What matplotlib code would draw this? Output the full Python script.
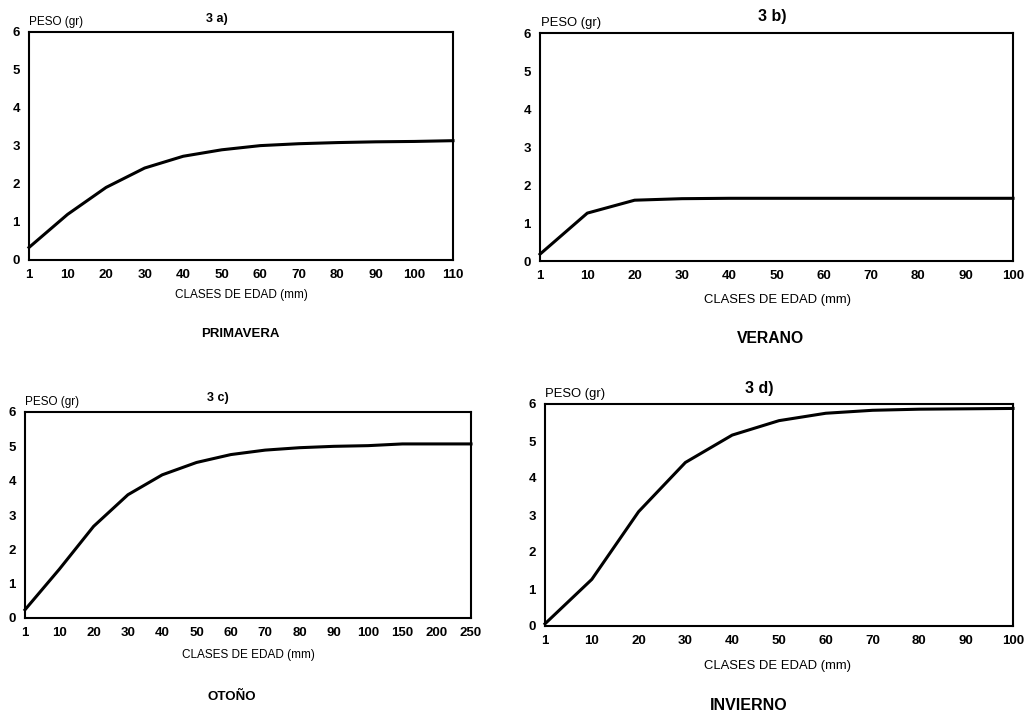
import matplotlib
matplotlib.use("Agg")
import matplotlib.pyplot as plt

plt.rcParams['font.family'] = ['Liberation Sans', 'DejaVu Sans']

# ---- data ----
cats_a = ["1", "10", "20", "30", "40", "50", "60", "70", "80", "90", "100", "110"]
peso_a = [0.33, 1.2, 1.91, 2.42, 2.73, 2.9, 3.01, 3.06, 3.09, 3.11, 3.12, 3.14]

cats_b = ["1", "10", "20", "30", "40", "50", "60", "70", "80", "90", "100"]
peso_b = [0.18, 1.26, 1.6, 1.64, 1.65, 1.65, 1.65, 1.65, 1.65, 1.65, 1.65]

cats_c = ["1", "10", "20", "30", "40", "50", "60", "70", "80", "90", "100", "150", "200", "250"]
peso_c = [0.24, 1.42, 2.67, 3.59, 4.17, 4.53, 4.76, 4.89, 4.96, 5.0, 5.02, 5.07, 5.07, 5.07]

cats_d = ["1", "10", "20", "30", "40", "50", "60", "70", "80", "90", "100"]
peso_d = [0.06, 1.26, 3.09, 4.42, 5.16, 5.55, 5.75, 5.83, 5.86, 5.87, 5.88]

titles = ["3 a)", "3 b)", "3 c)", "3 d)"]
seasons = ["PRIMAVERA", "VERANO", "OTOÑO", "INVIERNO"]
ylabel = "PESO (gr)"
xlabel = "CLASES DE EDAD (mm)"
yticks = [0, 1, 2, 3, 4, 5, 6]

W, H = 1028, 713
fig = plt.figure(figsize=(W / 100, H / 100), dpi=100)


def rect(l, t, r, b):
    return [l / W, (H - b) / H, (r - l) / W, (b - t) / H]


def fx(x):
    return x / W


def fy(y):
    return (H - y) / H


panels = [
    dict(cats=cats_a, vals=peso_a, box=(29, 32, 453, 260), title=(217, 19), peso=(29, 22),
         xl=(241, 295), season=(240, 334), fs_title=9, fs_lab=8.5, fs_season=9.5),
    dict(cats=cats_b, vals=peso_b, box=(540, 33, 1013, 261), title=(772, 16), peso=(541, 23),
         xl=(777, 300), season=(770, 338), fs_title=11.5, fs_lab=9.4, fs_season=11.3),
    dict(cats=cats_c, vals=peso_c, box=(25, 412, 471, 618), title=(218, 398), peso=(25, 402),
         xl=(248, 655), season=(232, 697), fs_title=9, fs_lab=8.5, fs_season=9.6),
    dict(cats=cats_d, vals=peso_d, box=(545, 404, 1013, 626), title=(759, 388), peso=(545, 394),
         xl=(778, 666), season=(749, 705), fs_title=11.5, fs_lab=9.4, fs_season=11.5),
]

for p, ttl, season in zip(panels, titles, seasons):
    ax = fig.add_axes(rect(*p["box"]))
    xs = list(range(len(p["cats"])))
    ax.plot(xs, p["vals"], color="black", lw=2.2, solid_joinstyle="round", clip_on=False)
    ax.set_xlim(0, len(p["cats"]) - 1)
    ax.set_ylim(0, 6)
    ax.set_xticks(xs)
    ax.set_xticklabels(p["cats"])
    ax.set_yticks(yticks)
    ax.tick_params(length=0, labelsize=9.5, pad=6.5)
    for lab in ax.get_xticklabels() + ax.get_yticklabels():
        lab.set_fontweight("bold")
    for s in ax.spines.values():
        s.set_linewidth(1.5)
        s.set_color("black")
    fig.text(fx(p["title"][0]), fy(p["title"][1]), ttl, ha="center", va="center",
             fontsize=p["fs_title"], fontweight="bold")
    fig.text(fx(p["peso"][0]), fy(p["peso"][1]), ylabel, ha="left", va="center",
             fontsize=p["fs_lab"])
    fig.text(fx(p["xl"][0]), fy(p["xl"][1]), xlabel, ha="center", va="center",
             fontsize=p["fs_lab"])
    fig.text(fx(p["season"][0]), fy(p["season"][1]), season, ha="center", va="center",
             fontsize=p["fs_season"], fontweight="bold")

fig.savefig("out.png", dpi=100, facecolor="white")
